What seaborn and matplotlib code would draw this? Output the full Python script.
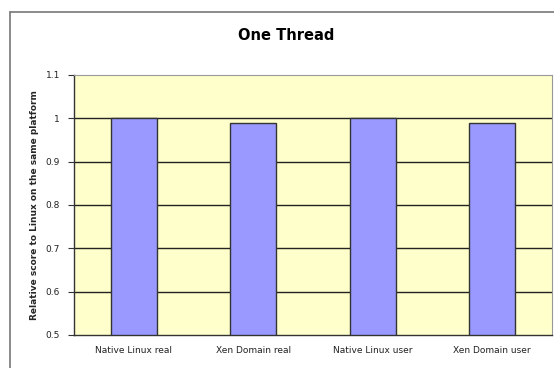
import matplotlib
matplotlib.use("Agg")
import matplotlib.pyplot as plt
import seaborn as sns
import pandas as pd
from matplotlib.lines import Line2D

categories = ["Native Linux real", "Xen Domain real", "Native Linux user", "Xen Domain user"]
values = [1.0, 0.99, 1.0, 0.99]
yticks = [0.5, 0.6, 0.7, 0.8, 0.9, 1.0, 1.1]
ytick_labels = ["0.5", "0.6", "0.7", "0.8", "0.9", "1", "1.1"]

df = pd.DataFrame({"cat": categories, "val": values})

sns.set_style("white")
plt.rcParams['font.family'] = ['DejaVu Sans']

fig = plt.figure(figsize=(5.54, 3.68), dpi=100)
ax = fig.add_axes([74/554, 33/368, 478/554, 260/368])
ax.set_facecolor("#FFFFCC")

for y in yticks[1:-1]:
    ax.axhline(y, color="#222222", lw=1.0, zorder=1)

sns.barplot(data=df, x="cat", y="val", color="#9999FF", width=0.385,
            edgecolor="#333333", linewidth=1.0, saturation=1, ax=ax, zorder=2)

ax.set_ylim(0.5, 1.1)
ax.set_xlim(-0.5, 3.5)
ax.set_yticks(yticks)
ax.set_yticklabels(ytick_labels, fontsize=6.5, color="#222222")
ax.set_xticks(range(len(categories)))
ax.set_xticklabels(categories, fontsize=6.5, color="#222222")
ax.tick_params(axis="x", which="major", length=0, pad=8)
ax.set_xticks([0.5, 1.5, 2.5, 3.5], minor=True)
ax.tick_params(axis="x", which="minor", length=3, direction="out", color="#333333")
ax.tick_params(axis="y", length=4, direction="out", color="#333333", pad=6, left=True)
ax.set_xlabel("")
ax.set_ylabel("Relative score to Linux on the same platform", fontsize=6.5,
              fontweight="bold", labelpad=5)

for s in ["top", "right"]:
    ax.spines[s].set_color("#999999")
    ax.spines[s].set_linewidth(0.8)
for s in ["left", "bottom"]:
    ax.spines[s].set_color("#333333")
    ax.spines[s].set_linewidth(1.0)

fig.text(286/554, 1 - 36/368, "One Thread", ha="center", va="center",
         fontsize=10.5, fontweight="bold", color="black")

# outer chart frame
fig.add_artist(Line2D([10/554, 1], [1 - 12/368, 1 - 12/368], transform=fig.transFigure,
                      color="#777777", lw=1.2))
fig.add_artist(Line2D([10/554, 10/554], [0, 1 - 12/368], transform=fig.transFigure,
                      color="#777777", lw=1.2))

fig.savefig("out.png", dpi=100)
